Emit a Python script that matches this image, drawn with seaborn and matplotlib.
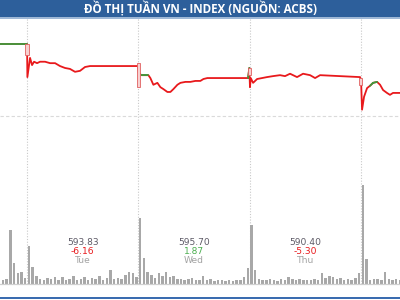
import numpy as np
import pandas as pd
import seaborn as sns
import matplotlib
matplotlib.use("Agg")
import matplotlib.pyplot as plt
from matplotlib.patches import Rectangle
from matplotlib.transforms import blended_transform_factory

# ---------------- data ----------------
title = "ĐỒ THỊ TUẦN VN - INDEX (NGUỒN: ACBS)"

# intraday price path (time in trading days: Tue = 1..2, Wed = 2..3, ...)
time = [0.70, 1.000, 1.003, 1.027, 1.045, 1.063, 1.090, 1.117, 1.162, 1.207, 1.252,
        1.296, 1.341, 1.386, 1.431, 1.476, 1.521, 1.566, 1.611, 1.979,
        1.997, 2.003, 2.027, 2.063, 2.090, 2.108, 2.135, 2.171, 2.198, 2.225,
        2.261, 2.288, 2.315, 2.351, 2.378, 2.423, 2.468, 2.512, 2.557, 2.585,
        2.620, 2.986,
        2.997, 3.003, 3.010, 3.031, 3.067, 3.112, 3.156, 3.210, 3.273, 3.318,
        3.363, 3.426, 3.480, 3.543, 3.588, 3.633, 3.992,
        4.001, 4.010, 4.028, 4.055, 4.082, 4.109, 4.145, 4.172, 4.199, 4.234,
        4.261, 4.288, 4.324, 4.400]
price = [600.0, 600.0, 593.1, 597.1, 595.6, 596.3, 596.0, 596.3, 596.3, 596.0, 596.0,
         595.4, 595.0, 594.8, 594.2, 594.4, 595.2, 595.4, 595.4, 595.4,
         595.4, 594.0, 593.5, 593.5, 593.5, 592.9, 591.5, 591.9, 591.0, 590.6,
         590.0, 590.0, 590.6, 591.5, 591.9, 592.1, 592.1, 592.3, 592.3, 592.7,
         592.9, 592.9,
         595.0, 591.0, 592.9, 591.9, 592.7, 592.9, 593.1, 593.3, 593.5, 593.3,
         593.8, 593.1, 593.8, 593.5, 592.9, 593.5, 593.1,
         592.5, 586.3, 589.0, 590.8, 591.3, 591.9, 592.1, 591.5, 590.4, 589.8,
         589.4, 589.8, 589.8, 589.8]
up = [1, 1, 0, 0, 0, 0, 0, 0, 0, 0, 0,
      0, 0, 0, 0, 0, 0, 0, 0, 0,
      0, 0, 1, 1, 1, 0, 0, 0, 0, 0,
      0, 0, 0, 0, 0, 0, 0, 0, 0, 0,
      0, 1,
      1, 0, 0, 0, 0, 0, 0, 0, 0, 0,
      0, 0, 0, 0, 0, 0, 0,
      0, 0, 0, 0, 1, 1, 1, 0, 0, 0,
      0, 0, 0, 0]

# opening boxes at each session start
open_day = [1, 2, 3, 4]
open_lo = [597.7, 591.0, 593.5, 591.5]
open_hi = [600.0, 596.0, 595.0, 592.9]

# volume bars (30 slots per session)
vol_mon_tail = [1.5, 2.0, 20.4, 8.0, 4.2, 4.5, 2.3]
vol_tue = [14.3, 6.5, 3.0, 2.0, 1.5, 2.2, 1.8, 2.6, 1.6, 2.8, 1.4, 2.0, 3.2, 1.5, 1.9,
           2.6, 1.4, 2.2, 1.7, 3.0, 1.6, 2.1, 5.3, 1.8, 2.4, 1.9, 3.4, 4.6, 4.2, 2.8]
vol_wed = [25.0, 10.0, 4.5, 3.5, 2.4, 4.0, 3.0, 4.5, 2.6, 3.2, 1.8, 2.0, 1.5, 1.7, 2.4,
           1.6, 1.5, 3.2, 1.4, 1.8, 1.3, 1.6, 1.4, 1.2, 1.6, 1.3, 1.5, 1.4, 2.6, 6.0]
vol_thu = [22.3, 5.3, 2.0, 1.6, 1.4, 1.8, 1.5, 1.3, 1.7, 1.5, 2.6, 2.0, 1.5, 1.8, 1.4,
           1.6, 1.5, 2.0, 1.4, 4.2, 2.2, 3.0, 2.6, 1.7, 2.2, 1.5, 1.8, 1.4, 2.4, 4.0]
vol_fri = [37.4, 9.4, 1.6, 1.8, 2.0, 1.5, 4.5, 2.0, 1.6, 1.8, 1.4]

# session summary labels (Fri only shows its close, clipped at the right edge)
day_names = ["Tue", "Wed", "Thu"]
day_close = ["593.83", "595.70", "590.40"]
day_change = ["-6.16", "1.87", "-5.30"]
fri_close = "589.81"

# ---------------- styling ----------------
RED = "#e8191c"
GREEN = "#3d9b3d"
BAR = "#a8a8a8"
BLUE = "#2d5f9b"

sns.set_theme(style="white")
plt.rcParams["font.family"] = ["DejaVu Sans"]

fig = plt.figure(figsize=(4, 3), dpi=100)
fig.patch.set_facecolor("white")
ax_v = fig.add_axes([0, 16 / 300, 1, 265 / 300])
ax_p = ax_v.twinx()

# volume
slots = 30
vx, vy = [], []
n = len(vol_mon_tail)
for i, v in enumerate(vol_mon_tail):
    vx.append(1 - (n - i - 0.5) / slots); vy.append(v)
for d, arr in zip([1, 2, 3, 4], [vol_tue, vol_wed, vol_thu, vol_fri]):
    for i, v in enumerate(arr):
        vx.append(d + (i + 0.5) / slots); vy.append(v)
ax_v.bar(vx, vy, width=0.022, color=BAR, linewidth=0, zorder=2)
ax_v.set_ylim(0, 100)
ax_v.set_xlim(0.757, 4.351)

# grid / separators
for d in open_day:
    ax_v.axvline(d, color="#c9c9c9", lw=0.8, ls=(0, (1, 1.5)), zorder=1)
ax_p.axhline(585, color="#dadada", lw=0.8, ls=(0, (3, 2)), zorder=1)

# price line
df = pd.DataFrame({"time": time, "price": price, "up": up})
sns.lineplot(data=df, x="time", y="price", ax=ax_p, color=RED, lw=1.3,
             estimator=None, sort=False, zorder=3)
for i in range(len(time) - 1):
    if up[i] and up[i + 1]:
        sns.lineplot(x=time[i:i + 2], y=price[i:i + 2], ax=ax_p, color=GREEN,
                     lw=1.3, estimator=None, sort=False, zorder=4)
ax_p.bar(open_day, np.array(open_hi) - np.array(open_lo), bottom=open_lo,
         width=0.028, facecolor="#f8d0d0", edgecolor="#e06060", linewidth=0.6, zorder=5)
ax_p.set_ylim(550, 605.2)

for a in (ax_v, ax_p):
    a.set_xticks([]); a.set_yticks([])
    a.set_xlabel(""); a.set_ylabel("")
    for s in ("top", "left", "right"):
        a.spines[s].set_visible(False)
    a.spines["bottom"].set_color("#d0d0d0")
    a.spines["bottom"].set_linewidth(0.8)
ax_p.set_xlim(0.757, 4.351)

# labels
tr = blended_transform_factory(ax_v.transData, ax_v.transAxes)
for k, (nm, cl, ch) in enumerate(zip(day_names, day_close, day_change)):
    xc = 1.5 + k
    ax_v.text(xc, 0.155, cl, transform=tr, ha="center", va="center",
              fontsize=6.6, color="#5d5a66", zorder=6)
    ax_v.text(xc, 0.121, ch, transform=tr, ha="center", va="center",
              fontsize=6.6, color=(RED if ch.startswith("-") else "#4caf50"), zorder=6)
    ax_v.text(xc, 0.087, nm, transform=tr, ha="center", va="center",
              fontsize=6.6, color="#a3a3a3", zorder=6)
ax_v.text(4.5, 0.155, fri_close, transform=tr, ha="center", va="center",
          fontsize=6.6, color="#c9b24a", zorder=6)

# title bar & bottom rule
fig.add_artist(Rectangle((0, 283 / 300), 1, 17 / 300, transform=fig.transFigure,
                         facecolor=BLUE, edgecolor="none"))
fig.add_artist(Rectangle((0, 281.5 / 300), 1, 1.5 / 300, transform=fig.transFigure,
                         facecolor="#9fb8d6", edgecolor="none"))
fig.text(0.5, 291.5 / 300, title, ha="center", va="center", color="white",
         fontsize=8.4, fontweight="bold", family=["Open Sans", "DejaVu Sans"])
fig.add_artist(Rectangle((0, 1 / 300), 1, 2.5 / 300, transform=fig.transFigure,
                         facecolor="#3a6cb0", edgecolor="none"))

fig.savefig("out.png", dpi=100)
